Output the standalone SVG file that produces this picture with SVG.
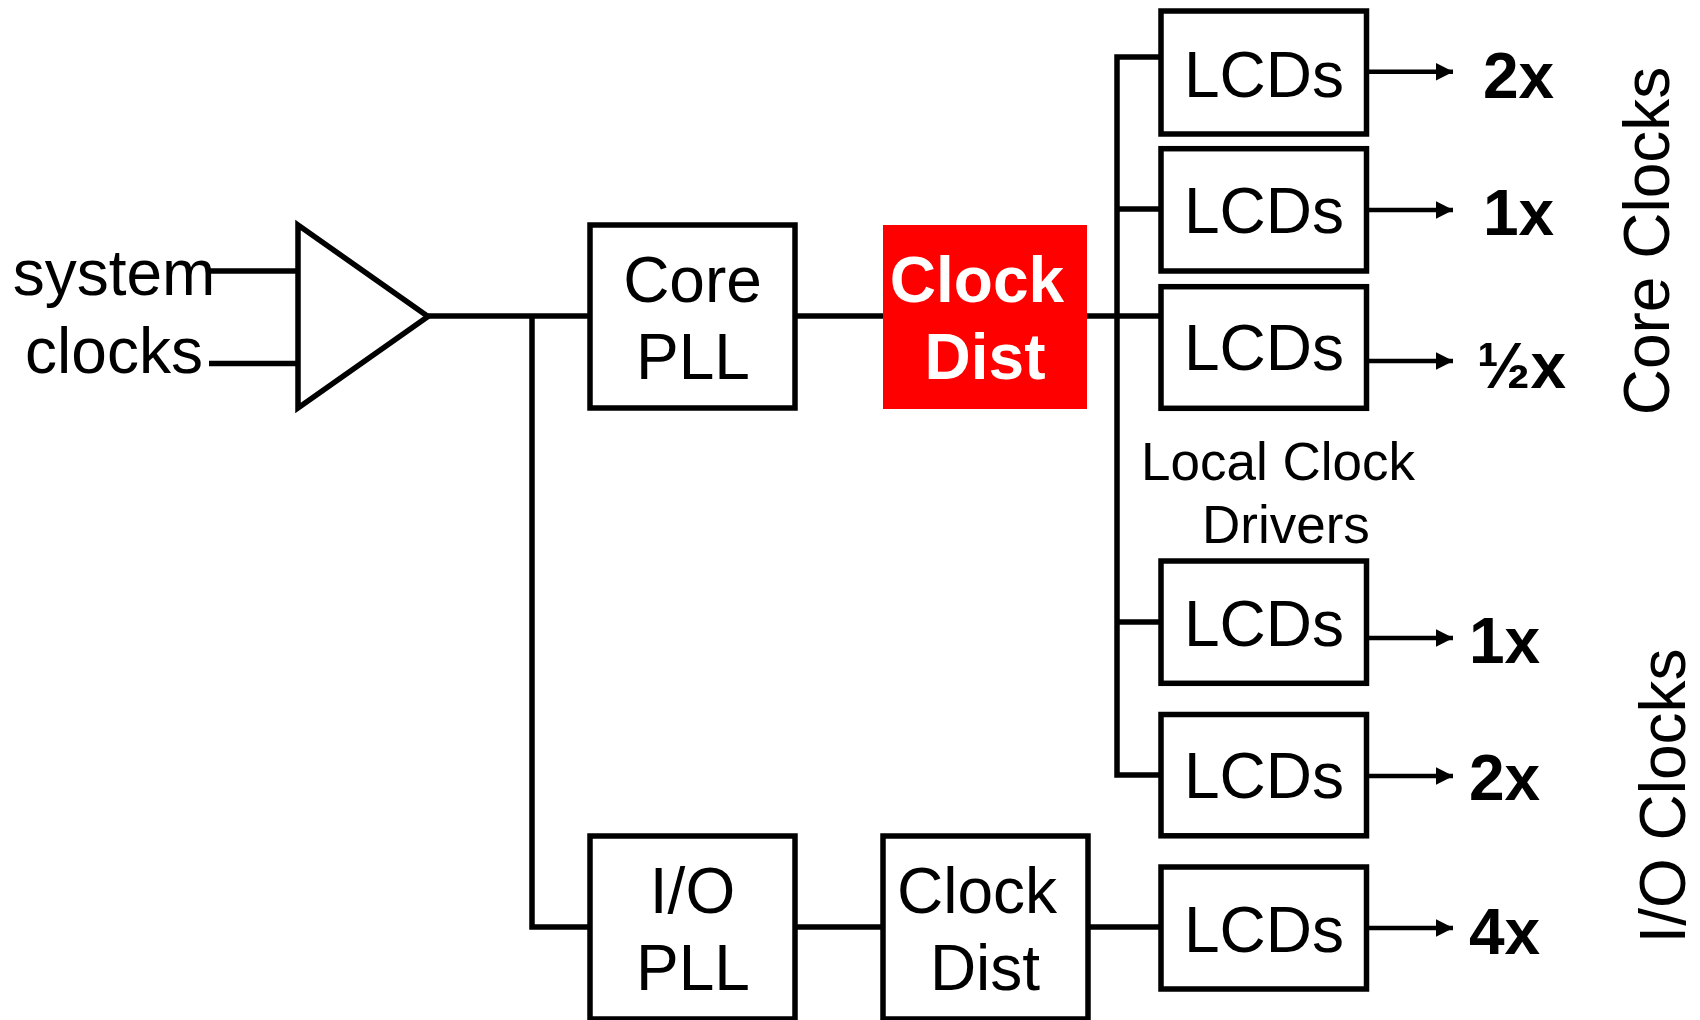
<svg xmlns="http://www.w3.org/2000/svg" width="1700" height="1020" viewBox="0 0 1700 1020">
<defs>
<marker id="arr" markerUnits="userSpaceOnUse" markerWidth="18" markerHeight="18" refX="17" refY="8.7" orient="auto">
<path d="M0,0 L17.3,8.7 L0,17.4 Z" fill="#000"/>
</marker>
<style>
.box{fill:#fff;stroke:#000;stroke-width:5.5}
.red{fill:#ff0000;stroke:none}
.t{font-family:"Liberation Sans",Arial,sans-serif;font-size:64px;fill:#000}
.tc{text-anchor:middle}
.tw{font-weight:bold;fill:#fff}
.lbl{font-family:"Liberation Sans",Arial,sans-serif;font-size:64px;font-weight:bold;fill:#000}
.sm{font-family:"Liberation Sans",Arial,sans-serif;font-size:53px;fill:#000}
.w{fill:none;stroke:#000;stroke-width:5.5;stroke-linejoin:miter;stroke-linecap:butt}
.a{fill:none;stroke:#000;stroke-width:4.5;marker-end:url(#arr)}
</style>
</defs>
<rect width="1700" height="1020" fill="#fff"/>

<g id="connectors">
<path class="w" d="M210,271 H298"/>
<path class="w" d="M209,363.5 H298"/>
<path class="w" d="M428,316 H590"/>
<path class="w" d="M532,316 V927 H590"/>
<path class="w" d="M795,316 H883"/>
<path class="w" d="M1087,316 H1161"/>
<path class="w" d="M1161,57 H1117 V775 H1161"/>
<path class="w" d="M1117,209 H1161"/>
<path class="w" d="M1117,622 H1161"/>
<path class="w" d="M795,927 H883"/>
<path class="w" d="M1088,927 H1161"/>
<path class="a" d="M1366,71.7 H1453"/>
<path class="a" d="M1366,210 H1453"/>
<path class="a" d="M1366,361 H1453"/>
<path class="a" d="M1366,638 H1453"/>
<path class="a" d="M1366,776 H1453"/>
<path class="a" d="M1366,928 H1453"/>
</g>

<g id="input-label">
<text class="t tc" x="114" y="295">system</text>
<text class="t tc" x="114" y="373">clocks</text>
</g>

<g id="buffer">
<polygon class="w" points="298,225 298,408 428,316.5" style="fill:#fff"/>
</g>

<g id="core-pll">
<rect class="box" x="590" y="225" width="205" height="183"/>
<text class="t tc" x="692.5" y="301.7">Core</text>
<text class="t tc" x="693" y="379">PLL</text>
</g>

<g id="core-clock-dist">
<rect class="red" x="883" y="225" width="204" height="184"/>
<text class="t tc tw" x="977" y="301.7">Clock</text>
<text class="t tc tw" x="985" y="379">Dist</text>
</g>

<g id="io-pll">
<rect class="box" x="590" y="836" width="205" height="183"/>
<text class="t tc" x="692.5" y="913">I/O</text>
<text class="t tc" x="693" y="990">PLL</text>
</g>

<g id="io-clock-dist">
<rect class="box" x="883" y="836" width="205" height="183"/>
<text class="t tc" x="977" y="913">Clock</text>
<text class="t tc" x="985" y="990">Dist</text>
</g>

<g id="lcd1">
<rect class="box" x="1161" y="11" width="205.5" height="123"/>
<text class="t tc" x="1264" y="96.7">LCDs</text>
</g>
<g id="lcd2">
<rect class="box" x="1161" y="148.7" width="205.5" height="122.3"/>
<text class="t tc" x="1264" y="233.3">LCDs</text>
</g>
<g id="lcd3">
<rect class="box" x="1161" y="286.7" width="205.5" height="121.6"/>
<text class="t tc" x="1264" y="370">LCDs</text>
</g>
<g id="lcd4">
<rect class="box" x="1161" y="561" width="205.5" height="122.3"/>
<text class="t tc" x="1264" y="646">LCDs</text>
</g>
<g id="lcd5">
<rect class="box" x="1161" y="714.5" width="205.5" height="121.3"/>
<text class="t tc" x="1264" y="798.3">LCDs</text>
</g>
<g id="lcd6">
<rect class="box" x="1161" y="867" width="205.5" height="122"/>
<text class="t tc" x="1264" y="951.7">LCDs</text>
</g>

<g id="lcd-caption">
<text class="sm" x="1141" y="480">Local Clock</text>
<text class="sm" x="1202" y="543">Drivers</text>
</g>

<g id="outputs">
<text class="lbl" x="1483" y="98.3">2x</text>
<text class="lbl" x="1483" y="235">1x</text>
<text class="lbl" x="1477" y="388">½x</text>
<text class="lbl" x="1469" y="663">1x</text>
<text class="lbl" x="1469" y="800">2x</text>
<text class="lbl" x="1469" y="954">4x</text>
</g>

<g id="group-labels">
<text class="t tc" transform="translate(1669,241) rotate(-90)">Core Clocks</text>
<text class="t tc" transform="translate(1685,796) rotate(-90)">I/O Clocks</text>
</g>
</svg>
